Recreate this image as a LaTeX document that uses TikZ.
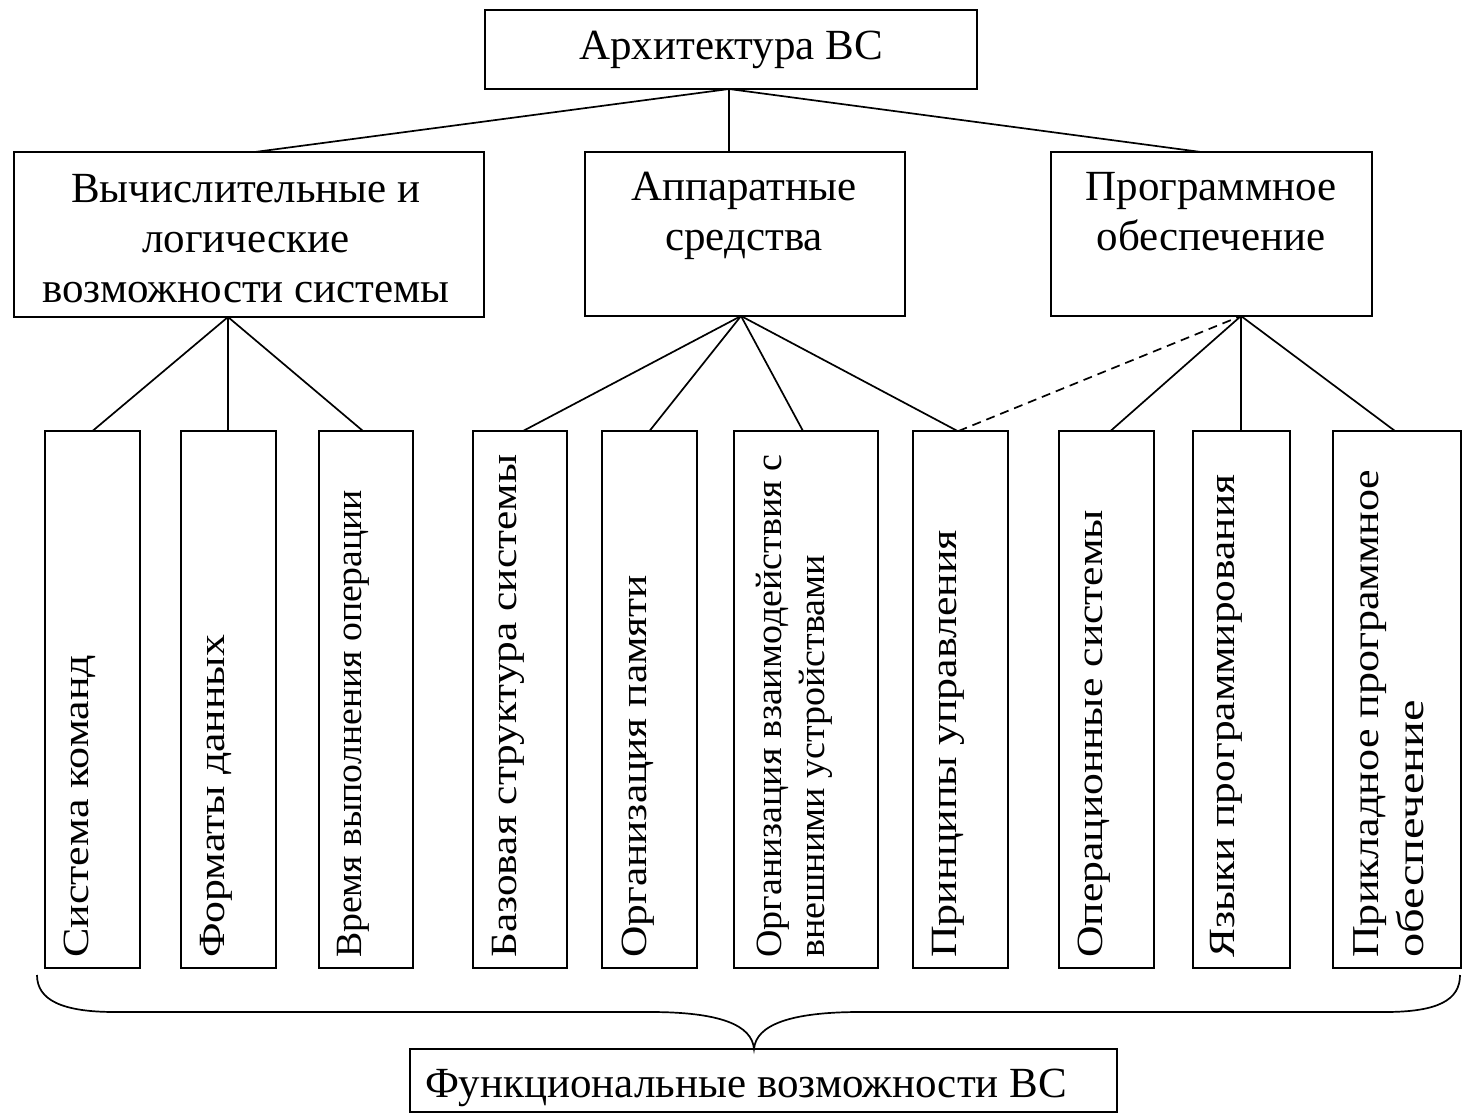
\documentclass[tikz,border=0pt]{standalone}
\usepackage{fontspec}
\setmainfont{Liberation Serif}
\usepackage{graphicx}
\usetikzlibrary{calc}
\newcommand\vtxt[3]{\resizebox{#1pt}{\height}{\fontsize{#2}{#2}\selectfont #3}}
\begin{document}
\begin{tikzpicture}[x=1pt,y=-1pt,
  bx/.style={draw, line width=2.1pt, inner sep=0pt, outer sep=0pt},
  hl/.style={font=\fontsize{43}{50}\selectfont, inner sep=0pt, anchor=base},
  vl/.style={rotate=90, anchor=base west, inner sep=0pt},
  link/.style={line width=1.7pt},
  dlink/.style={line width=1.7pt, dash pattern=on 9pt off 6pt}]
\useasboundingbox (0,0) rectangle (1463,1113);

% boxes
\node[bx, minimum width=492pt, minimum height=79pt] (top) at (731,49.5) {};
\node[bx, minimum width=470pt, minimum height=165pt] (L2a) at (249,234.5) {};
\node[bx, minimum width=320pt, minimum height=164pt] (L2b) at (745,234) {};
\node[bx, minimum width=321pt, minimum height=164pt] (L2c) at (1211.5,234) {};
\node[bx, minimum width=95pt, minimum height=537pt] (b1) at (92.5,699.5) {};
\node[bx, minimum width=95pt, minimum height=537pt] (b2) at (228.5,699.5) {};
\node[bx, minimum width=94pt, minimum height=537pt] (b3) at (366,699.5) {};
\node[bx, minimum width=94pt, minimum height=537pt] (b4) at (520,699.5) {};
\node[bx, minimum width=95pt, minimum height=537pt] (b5) at (649.5,699.5) {};
\node[bx, minimum width=144pt, minimum height=537pt] (b6) at (806,699.5) {};
\node[bx, minimum width=95pt, minimum height=537pt] (b7) at (960.5,699.5) {};
\node[bx, minimum width=95pt, minimum height=537pt] (b8) at (1106.5,699.5) {};
\node[bx, minimum width=97pt, minimum height=537pt] (b9) at (1241.5,699.5) {};
\node[bx, minimum width=128pt, minimum height=537pt] (b10) at (1397,699.5) {};
\node[bx, minimum width=707pt, minimum height=63pt] (fb) at (763.5,1080.5) {};

% horizontal texts
\node[hl] (ttop) at (731,60) {Архитектура ВС};
\node[hl] (ta1) at (246,202) {Вычислительные и};
\node[hl] (ta2) at (246,252) {логические};
\node[hl] (ta3) at (246,302) {возможности системы};
\node[hl] (tb1) at (744,200) {Аппаратные};
\node[hl] (tb2) at (744,250) {средства};
\node[hl] (tc1) at (1211,200) {Программное};
\node[hl] (tc2) at (1211,250) {обеспечение};
\node[hl] (tfb) at (746,1097) {Функциональные возможности ВС};

% vertical texts
\node[vl] (v1) at (88,958) {\vtxt{303}{37}{Система команд}};
\node[vl] (v2) at (224,958) {\vtxt{323}{37}{Форматы данных}};
\node[vl] (v3) at (361,958) {\vtxt{468}{37}{Время выполнения операции}};
\node[vl] (v4) at (516,958) {\vtxt{503}{37}{Базовая структура системы}};
\node[vl] (v5) at (646,958) {\vtxt{383}{37}{Организация памяти}};
\node[vl] (v6a) at (781,958) {\vtxt{503}{37}{Организация взаимодействия с}};
\node[vl] (v6b) at (824,958) {\vtxt{403}{37}{внешними устройствами}};
\node[vl] (v7) at (956,958) {\vtxt{428}{37}{Принципы управления}};
\node[vl] (v8) at (1102,958) {\vtxt{448}{37}{Операционные системы}};
\node[vl] (v9) at (1234,958) {\vtxt{483}{37}{Языки программирования}};
\node[vl] (v10a) at (1378,958) {\vtxt{488}{38}{Прикладное программное}};
\node[vl] (v10b) at (1423,958) {\vtxt{258}{38}{обеспечение}};

% connectors
\coordinate (tA) at ($(top.south)+(-2,0)$);
\coordinate (eA) at ($(L2a.north)+(6,0)$);
\coordinate (eC) at ($(L2c.north)+(-10.5,0)$);
\draw[link] (tA) -- (eA);
\draw[link] (tA) -- (tA |- L2b.north);
\draw[link] (tA) -- (eC);

\coordinate (aA) at ($(L2a.south)+(-21,0)$);
\draw[link] (aA) -- (b1.north);
\draw[link] (aA) -- (aA |- b2.north);
\draw[link] (aA) -- ($(b3.north)+(-3,0)$);

\coordinate (aB) at ($(L2b.south)+(-4,0)$);
\draw[link] (aB) -- ($(b4.north)+(3,0)$);
\draw[link] (aB) -- (b5.north);
\draw[link] (aB) -- ($(b6.north)+(-3,0)$);
\draw[link] (aB) -- ($(b7.north)+(-3,0)$);

\coordinate (aC) at ($(L2c.south)+(29.5,0)$);
\draw[link] (aC) -- ($(b8.north)+(4,0)$);
\draw[link] (aC) -- (aC |- b9.north);
\draw[link] (aC) -- ($(b10.north)+(-2,0)$);
\draw[dlink] ($(b7.north)+(-2,0)$) -- (aC);

% brace
\coordinate (brL) at (37,975);
\coordinate (brR) at (1460,975);
\coordinate (brT) at (fb.north -| 754,0);
\draw[link] (brL) .. controls (37,1000) and (62,1012) .. (115,1012)
  -- (650,1012) .. controls (720,1012) and (752,1025) .. (brT)
  .. controls (756,1025) and (790,1012) .. (860,1012)
  -- (1385,1012) .. controls (1438,1012) and (1460,1000) .. (brR);
\end{tikzpicture}
\end{document}
